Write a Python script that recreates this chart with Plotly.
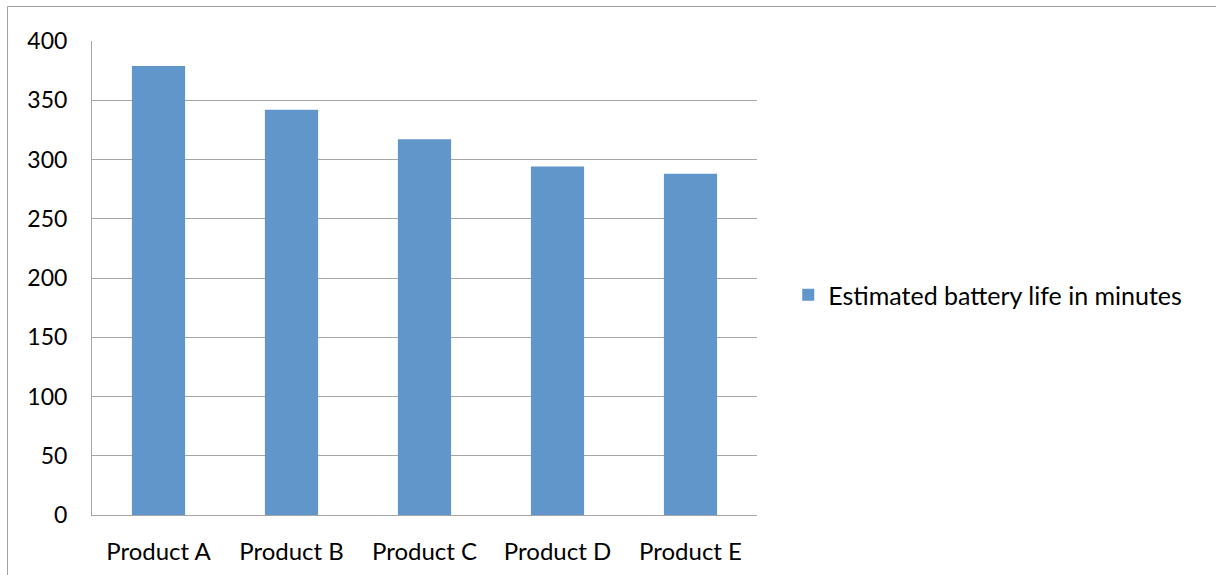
import plotly.graph_objects as go

categories = ["Product A", "Product B", "Product C", "Product D", "Product E"]
battery_minutes = [379, 342, 317, 294, 288]
series_name = "Estimated battery life in minutes"

fig = go.Figure()
fig.add_trace(go.Bar(
    x=categories, y=battery_minutes, name=series_name,
    marker=dict(color="#6096C9", line=dict(width=0)),
    showlegend=True,
))

grid = "#a6a6a6"
fig.update_layout(
    width=1216, height=575,
    margin=dict(l=92, r=459, t=41, b=60, autoexpand=False),
    paper_bgcolor="white", plot_bgcolor="white",
    font=dict(family="Lato, Open Sans, sans-serif", size=24, color="#000000"),
    bargap=0.6,
    showlegend=True,
    legend=dict(x=1.047, y=0.464, xanchor="left", yanchor="middle",
                font=dict(size=25), itemwidth=30, bgcolor="rgba(0,0,0,0)"),
    xaxis=dict(showgrid=False, showline=True, linecolor=grid, linewidth=1, automargin=False,
               ticks="", ticklabelstandoff=15, mirror=False, tickfont=dict(size=24)),
    yaxis=dict(range=[0, 400], dtick=50, showgrid=True, gridcolor=grid, gridwidth=1,
               showline=True, linecolor=grid, linewidth=1, zeroline=False, automargin=False,
               ticks="", ticklabelstandoff=19, tickfont=dict(size=23)),
    shapes=[dict(type="rect", xref="paper", yref="paper",
                 x0=-0.127, x1=2.0, y0=-1.0, y1=1.0728,
                 line=dict(color="#a0a0a0", width=1), fillcolor="rgba(0,0,0,0)", layer="below")],
)

fig.write_html("out.html")
